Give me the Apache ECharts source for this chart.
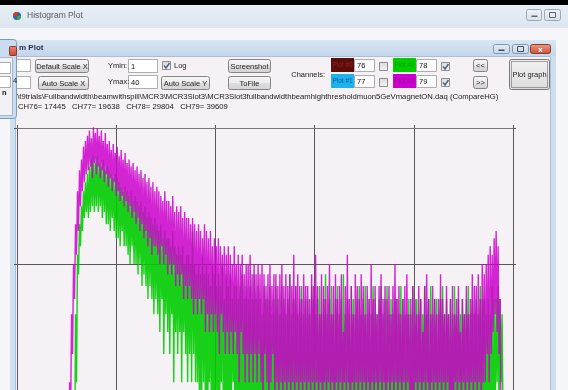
<!DOCTYPE html>
<html><head><meta charset="utf-8">
<script src="https://cdn.jsdelivr.net/npm/echarts@6/dist/echarts.min.js"></script>
<style>html,body{margin:0;padding:0;background:#f4f6f9;overflow:hidden;}#c{width:568px;height:390px;}</style>
</head><body><div id="c"></div>
<script>
// ---- data (bin counts, log scale) ----
const binStart = 52;
const xTicks = [0, 100, 200, 300, 400, 500];
const yMin = 2.77, yMax = 40; // visible window of the log axis (Ymin 1 lies below the cut-off screenshot)
const ch78 = [ // green, Plot #2
1,1,1,1,1,2,1,6,3,11, 9,15,12,18,14,21,16,23,17,25, 16,27,17,29,18,30,17,28,18,30,
17,28,18,27,16,29,17,26,15,27, 15,26,14,25,16,24,14,25,13,24, 13,23,12,22,14,21,12,22,12,21,
11,20,10,21,12,19,10,20,10,19, 9,18,10,19,8,17,9,18,8,16, 7,17,8,16,7,15,6,16,7,15,
6,14,5,15,7,13,4,14,6,13, 5,13,4,12,6,14,3,12,5,11, 4,12,5,11,3,12,5,10,4,11,
3,11,4,10,3,14,4,10,3,9, 3,10,2,9,2,11,3,9,2,10, 1,9,3,8,2,10,1,9,2,8,
2,9,1,8,3,10,2,7,1,9, 2,8,1,9,2,7,3,8,1,8, 2,7,1,8,2,9,1,7,2,8,
1,7,2,8,1,7,2,9,1,7, 2,8,1,7,2,6,1,8,2,7, 1,7,2,8,1,6,2,7,1,8,
2,7,1,6,2,8,1,7,2,6, 1,7,2,9,1,6,2,7,1,8, 2,6,1,7,2,8,1,6,2,7,
1,7,2,6,1,8,2,7,1,6, 2,7,1,8,2,6,1,7,2,9, 1,6,2,7,1,8,2,6,1,7,
2,8,1,6,2,7,1,9,2,6, 1,7,2,6,1,8,2,7,1,6, 2,7,1,8,2,6,1,7,2,8,
1,6,2,7,1,6,2,8,1,7, 2,6,1,7,2,8,1,6,2,7, 1,8,2,6,1,7,2,6,1,7,
2,7,1,6,2,8,1,7,2,6, 1,6,2,7,1,6,2,8,1,7, 2,7,1,6,2,7,1,6,2,8,
1,6,2,7,1,8,2,6,1,7, 2,7,1,6,2,7,1,8,2,6, 1,7,2,6,1,7,2,6,1,8,
2,6,1,7,2,6,1,7,2,6, 1,7,2,8,1,6,2,7,1,6, 2,7,1,6,2,8,1,7,2,7,
1,6,2,7,1,6,2,8,1,7, 2,7,3,8,2,7,3,6,2,1
];
const ch79 = [ // magenta, Plot #3
1,3,2,6,4,10,7,15,11,21, 14,26,18,29,21,33,23,35,25,37, 26,39,27,36,24,41,28,38,25,40,
27,37,24,39,26,35,23,38,25,34, 22,35,24,32,21,34,23,31,20,33, 21,30,19,32,20,29,18,31,19,28,
17,29,18,27,16,28,17,26,15,27, 16,25,14,26,15,24,13,25,14,23, 12,24,13,22,11,23,12,21,12,22,
11,21,10,20,12,19,10,21,11,19, 9,19,10,18,9,20,10,17,8,18, 9,17,8,18,9,16,7,17,8,16,
7,16,8,15,7,16,6,15,7,14, 6,15,7,14,6,13,7,15,5,14, 6,13,5,14,6,12,5,13,6,12,
5,13,4,12,6,11,5,12,4,11, 5,12,4,11,5,10,4,12,5,10, 4,11,3,10,5,11,4,9,3,10,
4,10,3,11,4,9,3,10,4,9, 3,10,4,9,3,10,2,9,4,8, 3,9,2,10,3,8,4,9,2,9,
3,8,2,9,3,10,2,8,3,9, 2,8,3,9,2,8,3,11,2,8, 3,9,2,8,3,7,2,9,3,8,
2,8,3,7,2,9,3,8,2,11, 3,8,2,6,3,9,1,8,3,7, 2,8,3,10,2,6,3,8,1,9,
3,7,2,8,3,9,2,5,3,8, 2,11,3,7,1,8,3,6,2,9, 3,8,2,7,3,9,2,8,3,6,
2,8,3,7,1,10,3,7,2,8, 3,6,2,8,3,9,2,7,3,8, 1,7,3,8,2,6,3,8,2,10,
3,7,2,8,3,6,2,7,3,8, 2,9,3,6,2,7,1,8,2,7, 3,6,2,8,3,7,2,5,3,8,
2,9,3,7,1,6,3,8,2,7, 3,6,2,7,3,9,2,7,3,6, 2,8,3,6,2,7,1,8,2,6,
3,7,2,8,3,5,2,7,3,6, 2,8,3,6,2,7,3,9,2,8, 3,8,2,9,3,7,2,10,3,9,
3,10,4,11,3,12,4,11,5,13, 6,14,5,12,4,7,2,1
];
const channelNames = ['CH76', 'CH77', 'CH78', 'CH79'];
const channelTotals = [17445, 19638, 29804, 39609];
const plotChannels = [76, 77, 78, 79];
const plotColors = ['#5a0e0e', '#1cb2ea', '#00cc00', '#cc00cc'];
const plotTextColors = ['#a01818', '#1b55b0', '#009a00', '#990099'];
const plotChecked = [false, false, true, true];

// ---- GUI drawing ----
const F = '"Liberation Sans", Arial, sans-serif';
const G = echarts.graphic;
const els = [];
function grad(stops){ return new G.LinearGradient(0,0,0,1, stops.map((c,i)=>({offset: typeof c==='object'?c[0]:i/(stops.length-1), color: typeof c==='object'?c[1]:c}))); }
function rect(x,y,w,h,fill,stroke,z,r,dash){ els.push({type:'rect', z:z, silent:true, shape:{x:x,y:y,width:w,height:h,r:r||0}, style:{fill:fill, stroke:stroke||null, lineWidth:1, lineDash:dash||null}}); }
function text(x,y,s,size,color,align,weight,z){ els.push({type:'text', z:z||6, silent:true, x:x, y:y, style:{text:s, fill:color||'#222', font:(weight||'normal')+' '+size+'px '+F, align:align||'left', verticalAlign:'middle'}}); }
function button(x,y,w,h,label){ rect(x+0.5,y+0.5,w,h, grad([[0,'#f7f7f7'],[0.48,'#ececec'],[0.52,'#dedede'],[1,'#d2d2d2']]), '#858585', 4, 2); text(x+w/2+0.5,y+h/2+1,label,7.5,'#1e1e1e','center'); }
function input(x,y,w,h,val){ rect(x+0.5,y+0.5,w,h,'#ffffff','#abadb3',4); if(val!==undefined) text(x+3,y+h/2+1,val,7.5,'#111'); }
function check(x,y,on){ rect(x+0.5,y+0.5,8,8, grad(['#d8d8d8','#f6f6f6']), '#8e8e8e', 4); if(on) els.push({type:'polyline', z:6, silent:true, shape:{points:[[x+2,y+4.5],[x+4,y+7],[x+7.5,y+2]]}, style:{stroke:'#4a5e84', lineWidth:1.4, fill:null}}); }

// backgrounds
rect(0,0,568,390,'#f5f6f9',null,-5);
rect(0,0,568,5,'#000000',null,-4);
rect(0,5,568,23, grad(['#e7eef6','#dde6f0']), null, -4);
rect(0,28,568,12,'#f3f5f8',null,-4);
// app icon + outer title
els.push({type:'circle', z:3, silent:true, shape:{cx:17,cy:16,r:4}, style:{fill:'#2f64b0'}});
els.push({type:'sector', z:3, silent:true, shape:{cx:17,cy:16,r:4,startAngle:Math.PI,endAngle:Math.PI*1.6}, style:{fill:'#d23a2a'}});
els.push({type:'sector', z:3, silent:true, shape:{cx:17,cy:16,r:4,startAngle:0,endAngle:Math.PI*0.5}, style:{fill:'#3aa844'}});
text(27,16,'Histogram Plot',8.5,'#5a5a5a');
rect(526.5,9.5,15,11, grad(['#f1f4f8','#d9e0e8']), '#9aa8b8', 3, 2);
rect(531.5,15.5,6,1.5,'#5c6a7c',null,4);
rect(544.5,9.5,16,11, grad(['#f1f4f8','#d9e0e8']), '#9aa8b8', 3, 2);
rect(549.5,12.5,6,5,null,'#5c6a7c',4);
// inner window
rect(10,40,546,360,'#cfdff0',null,-4);
rect(10,40,546,16, grad(['#d9e6f3','#c3d6ea']), null, -3);
rect(15,56,536,340,'#f5f1f5',null,-3);
rect(15.5,56.5,535,340,null,'#a9bfd6',-2);
text(19,48,'m Plot',8,'#1c2c48','left','bold');
rect(493.5,44.5,16,9, grad(['#e6eef7','#c5d5e6']), '#8197b0', 3, 2);
rect(498.5,49.5,6,1.5,'#3d4f66',null,4);
rect(512.5,44.5,16,9, grad(['#e6eef7','#c5d5e6']), '#8197b0', 3, 2);
rect(517.5,46.5,6,5,null,'#3d4f66',4);
rect(530.5,44.5,20,9, grad(['#e8a08c','#cf4a30']), '#8a3a2c', 3, 2);
text(540.5,49.5,'x',8,'#ffffff','center','bold');
// left overlapping window
rect(-3.5,39.5,20,79,'#cadcef','#7f9cbd',8,3);
rect(-3.5,57.5,16,58,'#f2f2f4','#a3b8cf',8);
rect(9.5,46.5,7,9, grad(['#e88a76','#c9442c']), '#8a3a2c', 9, 1);
rect(-3.5,62.5,14,11,'#ffffff','#abadb3',9);
rect(-3.5,76.5,14,11,'#ffffff','#abadb3',9);
text(13,81,'4',7.5,'#222','left','normal',10);
text(2,93,'n',7.5,'#111','left','bold',10);
// controls row
input(16,59,14,12); input(16,76,14,12);
button(35,59,53,13,'Default Scale X');
button(38,76,50,13,'Auto Scale X');
text(108,66,'Ymin:',7.5,'#222'); input(128,59,29,13,'1');
text(108,82,'Ymax:',7.5,'#222'); input(128,75,29,13,'40');
check(162,61,true); text(174,66,'Log',7.5,'#222');
button(161,76,48,13,'Auto Scale Y');
button(228,59,42,13,'Screenshot');
button(228,76,42,13,'ToFile');
text(325,75,'Channels:',7.5,'#222','right');
const boxPos = [[331,58],[331,74],[393,58],[393,74]];
plotChannels.forEach((ch,i)=>{
  const p = boxPos[i];
  rect(p[0],p[1],23,14,plotColors[i],null,4);
  text(p[0]+11.5,p[1]+7.5,'Plot #'+i,6.5,plotTextColors[i],'center');
  input(p[0]+23,p[1]+1,20,12,String(ch));
  check(p[0]+48,p[1]+4,plotChecked[i]);
});
button(473,59,14,12,'<<');
button(473,76,14,12,'>>');
rect(509.5,59.5,40,30, grad(['#f2f2f2','#dcdcdc']), '#7a7a7a', 4, 2);
rect(511.5,61.5,36,26, null, '#555', 5, 0, [1,1]);
text(529.5,74.5,'Plot graph',7.5,'#1e1e1e','center');
// info lines
text(15,97,':\\t9trials\\Fullbandwidth\\beamwithspill\\MCR3\\MCR3Slot3\\MCR3Slot3fullbandwidthbeamhighthresholdmuon5GeVmagnetON.daq (CompareHG)',7.7,'#1a1a1a');
text(18,107, channelNames.map((n,i)=>n+'= '+channelTotals[i]).join('   '),7.7,'#1a1a1a');

// ---- chart ----
const toPts = arr => arr.map((v,i)=>[binStart+i, v]);
const axisCommon = {type:'log', logBase:10, min:yMin, max:yMax, axisLine:{show:false}, axisLabel:{show:false},
  axisTick:{show:true, length:3, lineStyle:{color:'#555'}}};
const chart = echarts.init(document.getElementById('c'), null, {renderer:'canvas'});
chart.setOption({
  animation:false,
  backgroundColor:'transparent',
  graphic:{elements:els},
  grid:{left:17, right:55, top:128, bottom:0, show:false},
  xAxis:{type:'value', min:xTicks[0], max:xTicks[xTicks.length-1], interval:100, position:'top',
    axisLine:{show:true, lineStyle:{color:'#777', width:1}},
    axisTick:{show:true, inside:false, length:3, lineStyle:{color:'#555'}},
    axisLabel:{show:false},
    splitLine:{show:true, lineStyle:{color:'#585858', width:1}}},
  yAxis:[Object.assign({position:'left', splitLine:{show:true, lineStyle:{color:'#585858', width:1}}}, axisCommon),
         Object.assign({position:'right', splitLine:{show:false}}, axisCommon)],
  series:[
    {name:'CH78', type:'line', data:toPts(ch78), showSymbol:false, symbol:'none', clip:true,
      lineStyle:{color:'#00cc00', width:1.4, opacity:0.9}, z:3},
    {name:'CH79', type:'line', data:toPts(ch79), showSymbol:false, symbol:'none', clip:true,
      lineStyle:{color:'#cc00cc', width:1.4, opacity:0.85}, z:4}
  ]
});
</script></body></html>
